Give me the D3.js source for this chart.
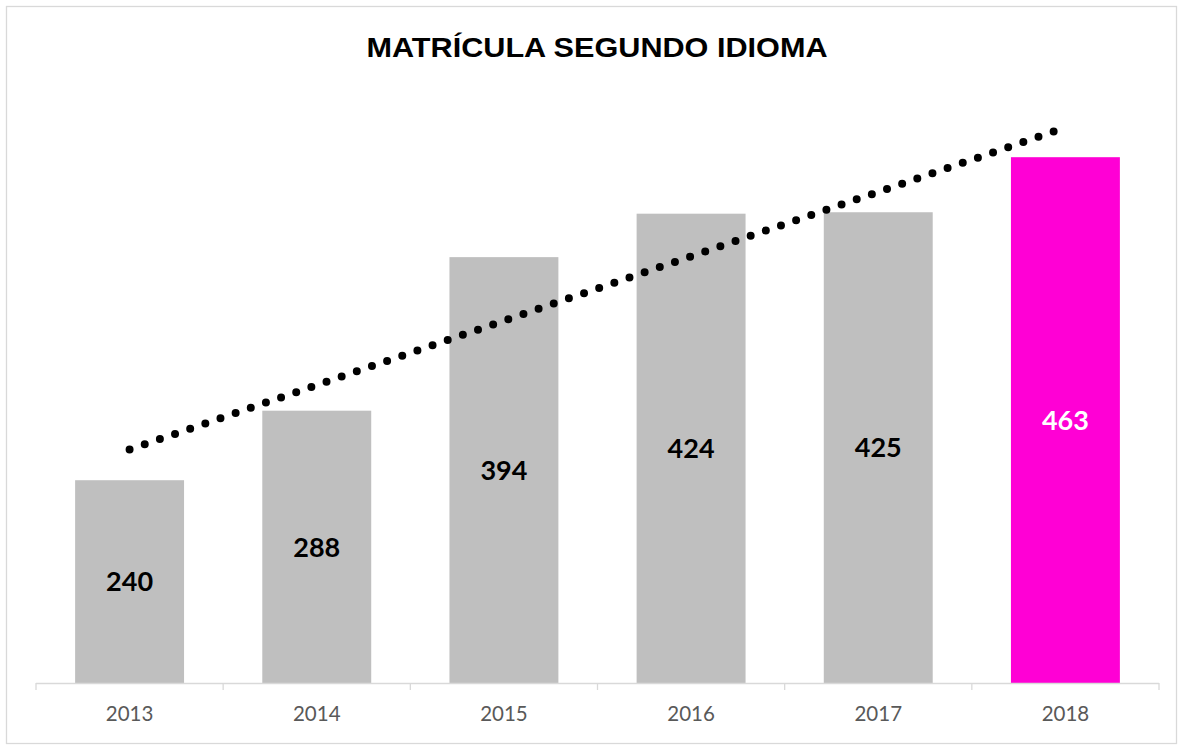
<!DOCTYPE html>
<html>
<head>
<meta charset="utf-8">
<script src="https://cdn.jsdelivr.net/npm/d3@7"></script>
<style>
  html, body { margin: 0; padding: 0; background: #fff; }
  svg { display: block; }
</style>
</head>
<body>
<div id="chart"></div>
<script>
// Datos del gráfico
const years = ['2013', '2014', '2015', '2016', '2017', '2018'];
const enrolment = [240, 288, 394, 424, 425, 463];
const barColors = ['#bfbfbf', '#bfbfbf', '#bfbfbf', '#bfbfbf', '#bfbfbf', '#ff00d5'];
const labelColors = ['#000', '#000', '#000', '#000', '#000', '#fff'];
const chartTitle = 'MATRÍCULA SEGUNDO IDIOMA';

const width = 1183, height = 747;

const svg = d3.select('#chart').append('svg')
    .attr('width', width)
    .attr('height', height);

// Borde exterior
svg.append('rect')
    .attr('x', 6.5).attr('y', 6.5)
    .attr('width', 1170).attr('height', 737)
    .attr('fill', '#fff')
    .attr('stroke', '#d9d9d9')
    .attr('stroke-width', 1.3);

// Escalas
const x = d3.scaleBand()
    .domain(years)
    .range([36, 1159])
    .paddingInner(0.418)
    .paddingOuter(0.209);

const y = d3.scaleLinear()
    .domain([100, 500])
    .range([683, 103.6]);

// Título
svg.append('text')
    .attr('x', 597)
    .attr('y', 57)
    .attr('text-anchor', 'middle')
    .attr('font-family', '"Liberation Sans Narrow", "Arial Narrow", "Liberation Sans", Arial, sans-serif')
    .attr('font-weight', 'bold')
    .attr('font-size', '28px')
    .attr('fill', '#000')
    .attr('textLength', 461)
    .attr('lengthAdjust', 'spacingAndGlyphs')
    .text(chartTitle);

// Barras
svg.append('g')
    .selectAll('rect')
    .data(enrolment)
    .enter().append('rect')
    .attr('x', (d, i) => x(years[i]))
    .attr('y', d => y(d))
    .attr('width', x.bandwidth())
    .attr('height', d => y(100) - y(d))
    .attr('fill', (d, i) => barColors[i]);

// Etiquetas de valores (centradas en la barra)
svg.append('g')
    .selectAll('text')
    .data(enrolment)
    .enter().append('text')
    .attr('x', (d, i) => x(years[i]) + x.bandwidth() / 2)
    .attr('y', d => (y(d) + y(100)) / 2)
    .attr('dy', '0.36em')
    .attr('text-anchor', 'middle')
    .attr('font-family', 'Lato, "Open Sans", sans-serif')
    .attr('font-weight', 'bold')
    .attr('font-size', '27px')
    .attr('fill', (d, i) => labelColors[i])
    .text(d => d);

// Línea de tendencia lineal (mínimos cuadrados)
const xs = enrolment.map((d, i) => i + 1);
const mx = d3.mean(xs), my = d3.mean(enrolment);
const slope = d3.sum(xs, (v, i) => (v - mx) * (enrolment[i] - my)) / d3.sum(xs, v => (v - mx) * (v - mx));
const intercept = my - slope * mx;
const trend = [xs[0], xs[xs.length - 1]].map(v => ({
    px: x(years[v - 1]) + x.bandwidth() / 2,
    py: y(intercept + slope * v)
}));

svg.append('line')
    .attr('x1', trend[0].px).attr('y1', trend[0].py)
    .attr('x2', trend[1].px).attr('y2', trend[1].py)
    .attr('stroke', '#000')
    .attr('stroke-width', 8)
    .attr('stroke-linecap', 'round')
    .attr('stroke-dasharray', '0 16.02');

// Eje X
const axisG = svg.append('g');
axisG.append('line')
    .attr('x1', 36).attr('x2', 1159)
    .attr('y1', 683.5).attr('y2', 683.5)
    .attr('stroke', '#d9d9d9')
    .attr('stroke-width', 1.3);

const tickPos = years.map(d => x(d) - x.step() * x.paddingInner() / 2);
tickPos.push(1159);
axisG.selectAll('line.tick')
    .data(tickPos)
    .enter().append('line')
    .attr('class', 'tick')
    .attr('x1', d => d).attr('x2', d => d)
    .attr('y1', 683).attr('y2', 690)
    .attr('stroke', '#d9d9d9')
    .attr('stroke-width', 1.3);

axisG.selectAll('text')
    .data(years)
    .enter().append('text')
    .attr('x', d => x(d) + x.bandwidth() / 2)
    .attr('y', 721)
    .attr('text-anchor', 'middle')
    .attr('font-family', 'Lato, "Open Sans", sans-serif')
    .attr('font-size', '20.5px')
    .attr('fill', '#595959')
    .text(d => d);
</script>
</body>
</html>
